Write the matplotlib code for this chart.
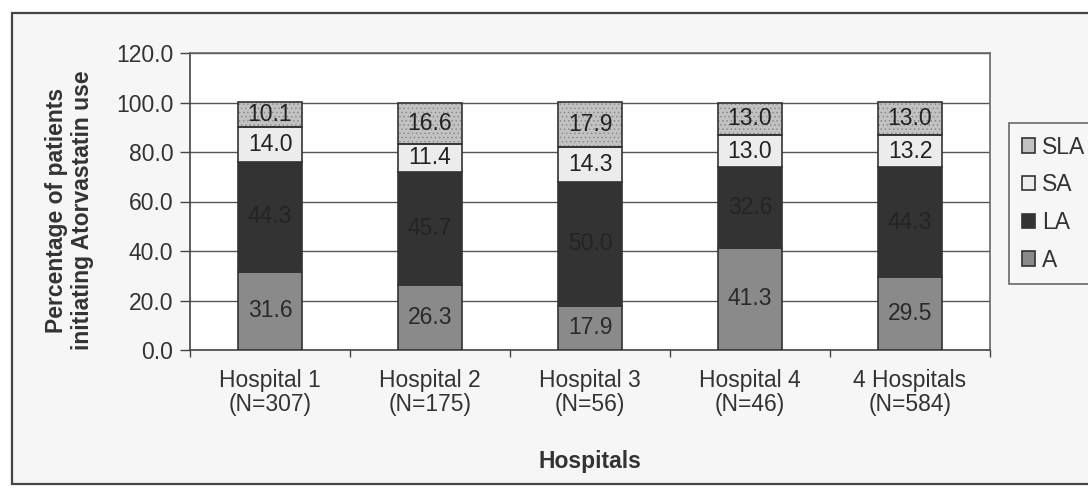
import matplotlib
matplotlib.use("Agg")
import matplotlib.pyplot as plt
from matplotlib.patches import Rectangle
import numpy as np

plt.rcParams['font.family'] = ['Liberation Sans', 'DejaVu Sans']

hospitals = ["Hospital 1\n(N=307)", "Hospital 2\n(N=175)", "Hospital 3\n(N=56)",
             "Hospital 4\n(N=46)", "4 Hospitals\n(N=584)"]
a_vals = [31.6, 26.3, 17.9, 41.3, 29.5]
la_vals = [44.3, 45.7, 50.0, 32.6, 44.3]
sa_vals = [14.0, 11.4, 14.3, 13.0, 13.2]
sla_vals = [10.1, 16.6, 17.9, 13.0, 13.0]
y_ticks = [0, 20, 40, 60, 80, 100, 120]

series = [
    ("A", a_vals, "#8a8a8a", "#2a2a2a", None),
    ("LA", la_vals, "#333333", "#242424", None),
    ("SA", sa_vals, "#ececec", "#222222", None),
    ("SLA", sla_vals, "#c2c2c2", "#222222", "...."),
]

fig = plt.figure(figsize=(10.88, 4.95), dpi=100)
fig.patch.set_facecolor("white")

# outer chart frame
frame = Rectangle((12 / 1088, 1 - 484 / 495), 1.0, (484 - 13) / 495,
                  transform=fig.transFigure, facecolor="#f6f6f6",
                  edgecolor="#444444", linewidth=1.6, zorder=-10)
fig.patches.append(frame)

ax = fig.add_axes([190 / 1088, 1 - 350 / 495, 800 / 1088, (350 - 53) / 495])
ax.set_facecolor("white")

x = np.arange(len(hospitals))
width = 0.4
bottom = np.zeros(len(hospitals))
for name, vals, face, txtcol, hatch in series:
    vals = np.array(vals)
    if hatch:
        plt.rcParams['hatch.color'] = "#8c8c8c"
        plt.rcParams['hatch.linewidth'] = 0.6
        ax.bar(x, vals, width, bottom=bottom, color=face, hatch=hatch,
               edgecolor="#8c8c8c", linewidth=0, zorder=2)
        ax.bar(x, vals, width, bottom=bottom, facecolor="none",
               edgecolor="#333333", linewidth=1.2, zorder=3)
    else:
        ax.bar(x, vals, width, bottom=bottom, color=face,
               edgecolor="#333333", linewidth=1.2, zorder=3)
    for xi, b, v in zip(x, bottom, vals):
        ax.text(xi, b + v / 2, f"{v:.1f}", ha="center", va="center",
                fontsize=16.5, color=txtcol, zorder=4)
    bottom += vals

ax.set_ylim(0, 120)
ax.set_xlim(-0.5, len(hospitals) - 0.5)
ax.set_yticks(y_ticks)
ax.set_yticklabels([f"{t:.1f}" for t in y_ticks])
ax.yaxis.grid(True, color="#555555", linewidth=1.0, zorder=1)
ax.set_axisbelow(True)

ax.set_xticks(x)
ax.set_xticklabels(hospitals, fontsize=16.5, color="#333333", linespacing=1.05)
ax.set_xticks(np.arange(-0.5, len(hospitals)), minor=True)
ax.tick_params(axis="x", which="major", length=0, pad=14)
ax.tick_params(axis="x", which="minor", length=5, width=1.0, color="#444444",
               direction="out")
ax.tick_params(axis="y", length=7, width=1.0, color="#444444", pad=5,
               labelsize=16.5, labelcolor="#333333")

for s in ["left", "bottom"]:
    ax.spines[s].set_color("#444444")
    ax.spines[s].set_linewidth(1.2)
for s in ["top", "right"]:
    ax.spines[s].set_color("#666666")
    ax.spines[s].set_linewidth(1.2)

ax.set_xlabel("Hospitals", fontsize=16.5, fontweight="bold", color="#333333",
              labelpad=24)
ax.set_ylabel("Percentage of patients\ninitiating Atorvastatin use",
              fontsize=16.5, fontweight="bold", color="#333333", linespacing=1.15)
ax.yaxis.set_label_coords(-0.12, 0.47)

# legend, listed top to bottom as SLA, SA, LA, A
leg_handles = []
for name, face in [("SLA", "#c2c2c2"), ("SA", "#ececec"),
                   ("LA", "#333333"), ("A", "#8a8a8a")]:
    leg_handles.append(Rectangle((0, 0), 1, 1, facecolor=face,
                                 edgecolor="#333333", linewidth=1.2,
                                 label=name))
leg = fig.legend(handles=leg_handles, loc="upper left",
                 bbox_to_anchor=(1009 / 1088, 1 - 123 / 495),
                 frameon=True, fancybox=False, fontsize=16.5,
                 handlelength=0.6, handleheight=0.6, handletextpad=0.3,
                 labelspacing=0.64, borderpad=0.55, borderaxespad=0)
leg.get_frame().set_edgecolor("#444444")
leg.get_frame().set_linewidth(1.2)
leg.get_frame().set_facecolor("#f6f6f6")
for t in leg.get_texts():
    t.set_color("#333333")

fig.savefig("out.png", dpi=100)
